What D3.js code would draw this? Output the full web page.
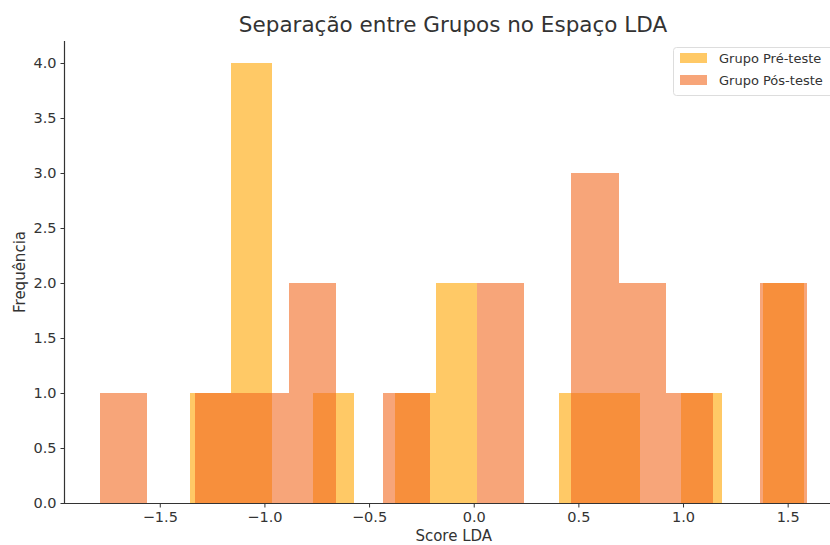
<!DOCTYPE html>
<html>
<head>
<meta charset="utf-8">
<script src="https://cdn.jsdelivr.net/npm/d3@7"></script>
<style>
  body { margin: 0; background: #fff; }
  svg text { font-family: "DejaVu Sans", sans-serif; fill: #333; }
</style>
</head>
<body>
<div id="chart"></div>
<script>
// histogram bins (15 bins each)
var preRange = [-1.354, 1.578]
var preCounts = [1, 4, 0, 1, 0, 1, 2, 0, 0, 1, 1, 0, 1, 0, 2]
var postRange = [-1.784, 1.592]
var postCounts = [1, 0, 1, 1, 2, 0, 1, 0, 2, 0, 3, 2, 1, 0, 2]
var seriesNames = ["Grupo Pré-teste", "Grupo Pós-teste"]
var yTicks = [0, 0.5, 1, 1.5, 2, 2.5, 3, 3.5, 4]
var xTicks = [-1.5, -1.0, -0.5, 0.0, 0.5, 1.0, 1.5]

var width = 830
var height = 545
var margin = {top: 41, left: 65, bottom: 42}
var pxPerUnit = 209.3

var svg = d3.select("#chart")
  .append("svg")
  .attr("width", width)
  .attr("height", height)

function makeBins(range, counts) {
  var w = (range[1] - range[0]) / counts.length
  return counts.map(function(c, i) {
    return {x0: range[0] + i * w, x1: range[0] + (i + 1) * w, n: c}
  })
}
var preBins = makeBins(preRange, preCounts)
var postBins = makeBins(postRange, postCounts)

// matplotlib style 5% margins
var lo = Math.min(preRange[0], postRange[0])
var hi = Math.max(preRange[1], postRange[1])
var pad = (hi - lo) * 0.05
var x = d3.scaleLinear()
  .domain([lo - pad, hi + pad])
  .range([margin.left, margin.left + (hi - lo + 2 * pad) * pxPerUnit])

var y = d3.scaleLinear()
  .domain([0, 4.2])
  .range([height - margin.bottom, margin.top])

var g = svg.append("g")

function drawBars(bins, color, cls) {
  g.selectAll("rect." + cls)
    .data(bins.filter(function(d) { return d.n > 0 }))
    .enter()
    .append("rect")
    .attr("class", cls)
    .attr("x", function(d) { return x(d.x0) })
    .attr("y", function(d) { return y(d.n) })
    .attr("width", function(d) { return x(d.x1) - x(d.x0) })
    .attr("height", function(d) { return y(0) - y(d.n) })
    .style("fill", color)
    .style("fill-opacity", 0.6)
    .attr("shape-rendering", "crispEdges")
}
drawBars(preBins, "#ffa500", "pre")
drawBars(postBins, "#f26920", "post")

// axes
var xAxis = svg.append("g")
  .attr("transform", "translate(0," + y(0) + ")")
  .call(d3.axisBottom(x).tickValues(xTicks).tickSize(4.5).tickPadding(4)
    .tickFormat(function(d) { return d3.format(".1f")(d).replace("-", "\u2212") }))
xAxis.select(".domain").attr("d", "M" + margin.left + ",0.5H" + width)

var yAxis = svg.append("g")
  .attr("transform", "translate(" + margin.left + ",0)")
  .call(d3.axisLeft(y).tickValues(yTicks).tickSize(4.5).tickPadding(4).tickFormat(d3.format(".1f")))
yAxis.select(".domain").attr("d", "M-0.5," + y(4.2) + "V" + (y(0) + 0.5))

svg.selectAll(".domain").style("stroke", "#333").style("stroke-width", 1.2)
svg.selectAll(".tick line").style("stroke", "#333").style("stroke-width", 1)
svg.selectAll(".tick text").style("font-size", "14.5px").style("fill", "#333")

// titles
svg.append("text")
  .attr("x", 453)
  .attr("y", 32)
  .style("text-anchor", "middle")
  .style("font-size", "21.5px")
  .text("Separação entre Grupos no Espaço LDA")

svg.append("text")
  .attr("x", x(0) - 20)
  .attr("y", 541)
  .style("text-anchor", "middle")
  .style("font-size", "15px")
  .text("Score LDA")

svg.append("text")
  .attr("transform", "rotate(-90)")
  .attr("x", -(y(0) + y(4.2)) / 2)
  .attr("y", 25)
  .style("text-anchor", "middle")
  .style("font-size", "15px")
  .text("Frequência")

// legend
var legend = svg.append("g").attr("transform", "translate(673,47)")
legend.append("rect")
  .attr("x", 0.5).attr("y", 0.5)
  .attr("width", 170).attr("height", 48)
  .attr("rx", 3)
  .style("fill", "#fff").style("fill-opacity", 0.8)
  .style("stroke", "#ddd")
var legendColors = ["#ffa500", "#f26920"]
seriesNames.forEach(function(name, i) {
  legend.append("rect")
    .attr("x", 7).attr("y", 6 + i * 22)
    .attr("width", 27).attr("height", 10)
    .style("fill", legendColors[i]).style("fill-opacity", 0.6)
  legend.append("text")
    .attr("x", 46).attr("y", 16 + i * 22)
    .style("font-size", "13px")
    .text(name)
})
</script>
</body>
</html>
